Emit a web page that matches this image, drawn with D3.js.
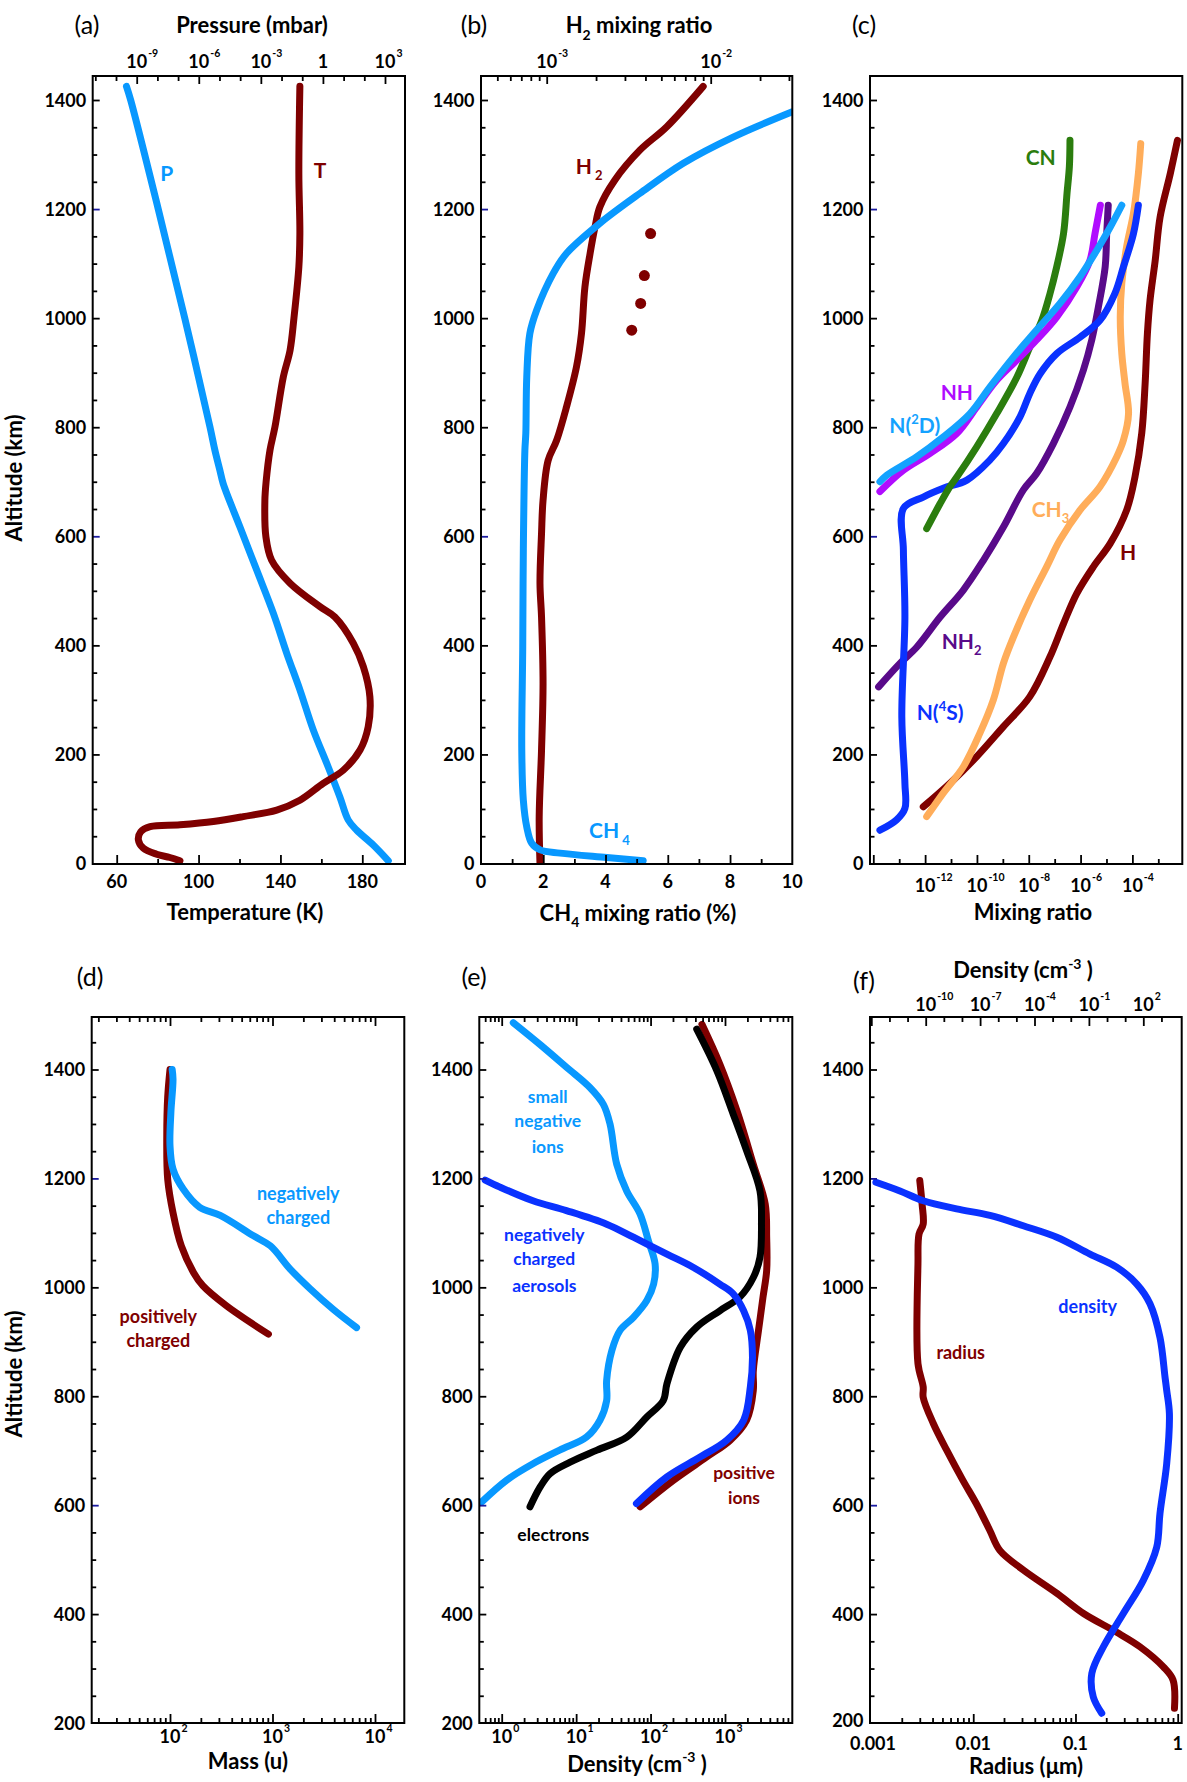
<!DOCTYPE html>
<html><head><meta charset="utf-8">
<script src="https://cdn.jsdelivr.net/npm/d3@7"></script>
<style>body{margin:0;background:#fff}svg{display:block}</style>
</head><body>
<script>
// ---------------- DATA ----------------
// (a) pressure (mbar) and temperature (K) vs altitude (km)
const altP = [1425,1400,1200,1000,800,758,721,697,617,538,459,385,318,245,177,122,80,61,34,5];
const pressureMbar = [3.2e-10,5.1e-10,1.1e-8,2.1e-7,3.5e-6,6.0e-6,1.05e-5,1.5e-5,9.8e-5,6.3e-4,4.0e-3,1.8e-2,7.8e-2,0.34,1.8,6.6,16.6,43,270,1450];
const altT = [1425,1265,1155,1094,1000,941,892,800,758,700,666,599,556,514,471,452,404,361,306,251,208,171,147,116,98,86,77,71,67.5,58,43,28,17,11,5];
const temperatureK = [149.5,149,149.5,149,146.6,144.7,141.4,137.3,134.9,133,132.4,132.9,135.7,144.7,159.3,166.6,175.6,180.5,183.7,182.9,178.9,170.7,160.9,149.5,138.2,121.8,107.2,90.9,76.3,71.7,70.6,73.0,79.5,86,90.9];
const tempTicks = [60,100,140,180];
const pressureTicks = [1e-9,1e-6,1e-3,1,1e3];
const pressureTickLabels = ['10^-9','10^-6','10^-3','1','10^3'];

// (b) CH4 (%) and H2 mixing ratio
const altCH4 = [5,11,19,25,37,67,116,208,392,575,758,789,892,972,1015,1082,1119,1174,1229,1284,1332,1378];
const ch4Percent = [5.21,4.04,2.54,1.90,1.63,1.47,1.36,1.31,1.34,1.36,1.41,1.44,1.47,1.57,1.79,2.32,2.75,3.82,5.11,6.50,8.10,9.98];
const altH2 = [1425,1351,1308,1253,1204,1167,1119,1057,972,911,837,776,739,666,605,514,452,330,208,86,0];
const h2Ratio = [9.0e-3,5.4e-3,3.7e-3,2.6e-3,2.11e-3,1.97e-3,1.84e-3,1.71e-3,1.63e-3,1.52e-3,1.32e-3,1.15e-3,1.02e-3,9.5e-4,9.3e-4,9.1e-4,9.3e-4,9.5e-4,9.3e-4,9.0e-4,9.1e-4];
const altH2obs = [1155,1078,1027,978];
const h2Obs = [4.3e-3,3.94e-3,3.74e-3,3.30e-3];
const ch4Ticks = [0,2,4,6,8,10];
const h2Ticks = [1e-3,1e-2];
const h2TickLabels = ['10^-3','10^-2'];

// (c) mixing ratios
const altCN = [1326,1278,1229,1155,1094,1045,996,947,892,825,764,709,691,660,614];
const mrCN = [3.9e-7,3.7e-7,3.0e-7,2.2e-7,1.2e-7,6.6e-8,3.2e-8,1.1e-8,3.5e-9,5.8e-10,9.8e-11,1.7e-11,9.1e-12,3.8e-12,1.15e-12];
const altNH = [1207,1155,1106,1057,1002,960,923,886,837,789,752,721,682];
const mrNH = [5.8e-6,3.6e-6,2.3e-6,7.1e-7,1.2e-7,2.0e-8,3.5e-9,5.8e-10,9.8e-11,1.7e-11,1.55e-12,1.45e-13,1.8e-14];
const altN2D = [1207,1167,1125,1076,1027,978,929,874,825,782,746,712,700];
const mrN2D = [3.9e-5,1.4e-5,4.3e-6,9.5e-7,1.6e-7,2.0e-8,2.6e-9,3.2e-10,5.4e-11,5.0e-12,4.8e-13,3.3e-14,1.8e-14];
const altNH2 = [1207,1155,1094,1021,960,905,837,770,715,685,617,556,501,452,397,367,324];
const mrNH2 = [1.17e-5,1.02e-5,8.9e-6,4.9e-6,2.7e-6,1.29e-6,3.9e-7,8.9e-8,2.0e-8,6.2e-9,1.05e-9,1.78e-10,2.95e-11,3.8e-12,4.8e-13,1.07e-13,1.6e-14];
const altN4S = [1207,1155,1094,1045,996,965,935,898,862,819,770,740,703,688,672,651,575,452,269,147,101,80,61];
const mrN4S = [1.7e-4,1.1e-4,4.5e-5,2.1e-5,5.6e-6,9.5e-7,1.2e-7,2.75e-8,1.1e-8,4.6e-9,1.05e-9,3.2e-10,4.1e-11,5.0e-12,8.5e-13,1.45e-13,1.45e-13,1.66e-13,1.26e-13,1.66e-13,1.66e-13,7.9e-14,1.8e-14];
const altCH3 = [1320,1265,1192,1131,1064,1002,935,880,825,776,746,691,648,593,544,483,416,367,300,239,177,129,86];
const mrCH3 = [2.1e-4,1.7e-4,1.1e-4,6.0e-5,3.9e-5,3.4e-5,3.9e-5,5.2e-5,7.1e-5,4.5e-5,2.5e-5,5.6e-6,9.5e-7,1.6e-7,4.9e-8,1.1e-8,2.6e-9,1.05e-9,4.3e-10,1.3e-10,2.95e-11,5.0e-12,1.15e-12];
const altH = [1326,1265,1185,1106,1033,972,880,789,709,648,587,544,495,440,379,306,251,196,147,104];
const mrH = [5.5e-3,2.9e-3,1.17e-3,7.6e-4,4.8e-4,3.8e-4,3.1e-4,2.3e-4,1.26e-4,6.0e-5,1.4e-5,3.1e-6,7.1e-7,2.2e-7,6.6e-8,1.1e-8,1.05e-9,9.8e-11,9.1e-12,8.5e-13];
const mixTicks = [1e-12,1e-10,1e-8,1e-6,1e-4];
const mixTickLabels = ['10^-12','10^-10','10^-8','10^-6','10^-4'];

// (d) mass (u)
const altPos = [1400,1350,1278,1198,1137,1076,1027,1003,966,936,914];
const massPos = [100,95,93,95,107,129,170,209,355,603,912];
const altNeg = [1400,1382,1321,1260,1217,1180,1147,1132,1095,1076,1034,997,960,926];
const massNeg = [105,107,102,100,107,135,195,309,646,955,1480,2340,3890,6610];
const massTicks = [1e2,1e3,1e4];
const massTickLabels = ['10^2','10^3','10^4'];

// (e) densities (cm^-3)
const altSmallNeg = [1486,1446,1404,1367,1336,1300,1226,1177,1135,1086,1043,1006,976,945,921,884,829,792,756,725,701,676,646,606];
const denSmallNeg = [1.43,3.27,7.46,15.3,23.2,28.5,35.1,47.8,72.1,93.3,115,110,89.1,58.9,38.9,30.2,25.7,25.7,20.9,13.8,6.0,2.63,1.17,0.54];
const altAerosol = [1197,1184,1159,1141,1116,1092,1061,1037,1006,988,957,921,872,817,756,719,688,652,603];
const denAerosol = [0.60,0.95,2.63,7.41,25.7,58.9,166,372,851,1290,1780,2190,2340,2190,1780,1050,457,166,64.6];
const altElec = [1474,1398,1318,1251,1177,1116,1055,1018,982,957,927,890,823,792,762,725,701,679,658,633,597];
const denElec = [417,776,1290,1950,2950,3090,2950,2400,1580,851,417,251,166,148,89.1,47.9,19.1,8.3,4.47,3.27,2.4];
const altPosIon = [1483,1410,1324,1226,1153,1092,1031,982,921,847,811,756,719,688,646,597];
const denPosIon = [490,851,1450,2400,3470,3630,3630,3240,2820,2400,2400,1950,1170,562,204,72.4];
const densTicks = [1,10,100,1000];
const densTickLabels = ['10^0','10^1','10^2','10^3'];

// (f) aerosol radius (um) and density
const altRadius = [1196,1153,1116,1098,1043,860,817,798,750,701,646,603,554,517,481,438,401,367,340,303,279,227];
const radiusUm = [0.0030,0.00316,0.00324,0.00295,0.00288,0.00288,0.00324,0.00324,0.00407,0.0055,0.0079,0.0107,0.0145,0.0182,0.0309,0.066,0.120,0.251,0.427,0.724,0.90,0.93];
const altAerDen = [1193,1177,1159,1144,1132,1113,1092,1061,1037,1006,970,908,835,811,768,676,585,523,462,401,340,291,248,218];
const aerDen = [1.8e-13,3.8e-12,7.4e-11,5.1e-9,3.5e-7,2.4e-5,1.7e-3,0.115,3.4,43.6,234,832,1580,1950,2750,1950,832,550,100,7.9,0.63,0.145,0.174,0.51];
const radiusTicks = [0.001,0.01,0.1,1];
const radiusTickLabels = ['0.001','0.01','0.1','1'];
const aerDenTicks = [1e-10,1e-7,1e-4,1e-1,1e2];
const aerDenTickLabels = ['10^-10','10^-7','10^-4','10^-1','10^2'];

const altTicksTop = [0,200,400,600,800,1000,1200,1400];
const altTicksBottom = [200,400,600,800,1000,1200,1400];

// ---------------- DRAWING ----------------
const F = "Lato, 'Open Sans', 'DejaVu Sans', sans-serif";
const COL = {lb:'#0898ff', dr:'#7f0000', bl:'#0a32ff', gr:'#2b7d0e', vi:'#b00cff', pu:'#590a8a', or:'#ffad5a', n2d:'#14a2ff', bk:'#000'};
const LW = 7;
const svg = d3.select('body').append('svg').attr('width',1187).attr('height',1782);
const defs = svg.append('defs');

function rich(x,y,parts,o={}){
  const fs=o.fs||18;
  const t=svg.append('text').attr('x',x).attr('y',y).attr('text-anchor',o.anchor||'middle')
    .attr('font-size',fs).attr('font-weight',o.weight||700).attr('fill',o.color||'#000').attr('font-family',F);
  if(o.rotate) t.attr('transform',`rotate(${o.rotate},${x},${y})`);
  let shift=0;
  parts.forEach(p=>{
    let s=p,k='n'; if(Array.isArray(p)){s=p[0];k=p[1];}
    const target = k==='sub'? fs*0.3 : k==='sup'? -fs*0.42 : 0;
    const ts=t.append('tspan').text(s);
    if(target-shift!==0) ts.attr('dy',target-shift);
    if(k!=='n') ts.attr('font-size',Math.round(fs*0.62));
    shift=target;
  });
  return t;
}
function tickLabel(x,y,lab,fs=18){
  const m=lab.split('^');
  const t=svg.append('text').attr('x',x).attr('y',y).attr('text-anchor','middle').attr('font-size',fs)
    .attr('font-weight',700).attr('font-family',F).text(m[0]);
  if(m.length>1){
    const w=t.node().getComputedTextLength();
    svg.append('text').attr('x',x+w/2+1).attr('y',y-fs*0.6).attr('font-size',10.5).attr('font-weight',700)
      .attr('font-family',F).text(m[1]);
  }
}
function ticks(axisFn,scale,values,size,tx,ty,color){
  const g=svg.append('g').attr('transform',`translate(${tx},${ty})`)
    .call(axisFn(scale).tickValues(values).tickSize(size).tickSizeOuter(0).tickFormat(''));
  g.select('.domain').remove();
  g.selectAll('text').remove();
  g.selectAll('line').attr('stroke',color||'#000').attr('stroke-width',1.8);
  return g;
}
function logTicks(scale,lo,hi,x0,x1){
  const out=[];
  for(let e=lo;e<=hi;e++) for(let m=1;m<10;m++){const v=m*Math.pow(10,e);const p=scale(v);if(p>x0+1&&p<x1-1) out.push(v);}
  return out;
}
function frame(P){
  svg.append('rect').attr('x',P.x0).attr('y',P.y0).attr('width',P.x1-P.x0).attr('height',P.y1-P.y0)
    .attr('fill','none').attr('stroke','#000').attr('stroke-width',2);
}
function clip(P,id){
  defs.append('clipPath').attr('id',id).append('rect').attr('x',P.x0).attr('y',P.y0).attr('width',P.x1-P.x0).attr('height',P.y1-P.y0);
}
function curve(xs,ys,xs_,ys_,color,id,w=LW){
  svg.append('path').datum(d3.zip(xs,ys))
    .attr('d',d3.line().x(d=>xs_(d[0])).y(d=>ys_(d[1])).curve(d3.curveCatmullRom.alpha(0.5)))
    .attr('fill','none').attr('stroke',color).attr('stroke-width',w)
    .attr('stroke-linecap','round').attr('stroke-linejoin','round').attr('clip-path',`url(#${id})`);
}
function yAxis(P,y,majors,lo,hi,lowLift=0){
  const minors=d3.range(lo,hi+1,50).filter(v=>!majors.includes(v)&&y(v)>P.y0+1&&y(v)<P.y1-1);
  ticks(d3.axisRight,y,minors,4.5,P.x0,0);
  ticks(d3.axisRight,y,majors.filter(v=>v!==600&&v!==1200&&y(v)<P.y1-1),7,P.x0,0);
  ticks(d3.axisRight,y,majors.filter(v=>v===600||v===1200),7,P.x0,0,'#1a1aa0');
  majors.forEach((v,i)=>svg.append('text').attr('x',P.x0-6.5).attr('y',y(v)+6.5-(i===0?lowLift:0)).attr('text-anchor','end')
    .attr('font-size',18).attr('font-weight',700).attr('font-family',F).text(v));
}

// ----- panel geometry -----
const PA={x0:92.7,x1:405,y0:76,y1:864}, PB={x0:481,x1:792.3,y0:76,y1:864}, PC={x0:870,x1:1182.3,y0:76,y1:864};
const PD={x0:91.7,x1:404.3,y0:1017,y1:1723}, PE={x0:479.3,x1:792.3,y0:1017,y1:1723}, PF={x0:870,x1:1181.7,y0:1017,y1:1723};
const yTop=d3.scaleLinear().domain([0,1400]).range([863.5,100]);
const yBot=d3.scaleLinear().domain([200,1400]).range([1723,1069.5]);
[['ca',PA],['cb',PB],['cc',PC],['cd',PD],['ce',PE],['cf',PF]].forEach(([id,P])=>clip(P,id));

// ===== (a) =====
const xT=d3.scaleLinear().domain([60,180]).range([116.7,362.3]);
const xP=d3.scaleLog().domain([1e-9,1e3]).range([136.7,385]);
curve(pressureMbar,altP,xP,yTop,COL.lb,'ca');
curve(temperatureK,altT,xT,yTop,COL.dr,'ca');
yAxis(PA,yTop,altTicksTop,0,1400);
ticks(d3.axisTop,xT,tempTicks,9,0,PA.y1);
ticks(d3.axisTop,xT,[80,120,160],5,0,PA.y1);
tempTicks.forEach(v=>tickLabel(xT(v),888,String(v)));
const pDec=d3.range(-11,4).map(e=>Math.pow(10,e));
ticks(d3.axisBottom,xP,pDec.filter(v=>!pressureTicks.some(t=>Math.abs(t/v-1)<1e-6)),5,0,PA.y0);
ticks(d3.axisBottom,xP,pressureTicks,8,0,PA.y0);
pressureTicks.forEach((v,i)=>tickLabel(xP(v),68,pressureTickLabels[i]));
frame(PA);
rich(252,33,['Pressure (mbar)'],{fs:22});
rich(245,920,['Temperature (K)'],{fs:22});
rich(87,34,['(a)'],{fs:25,weight:400});
rich(166.7,180.7,['P'],{fs:21,color:COL.lb});
rich(320,178.3,['T'],{fs:21,color:COL.dr});
rich(22,478,['Altitude (km)'],{fs:22,rotate:-90});

// ===== (b) =====
const xCH4=d3.scaleLinear().domain([0,10]).range([481,792.3]);
const xH2=d3.scaleLog().domain([1e-3,1e-2]).range([546.7,710.7]);
curve(h2Ratio,altH2,xH2,yTop,COL.dr,'cb');
curve(ch4Percent,altCH4,xCH4,yTop,COL.lb,'cb');
svg.append('g').selectAll('circle').data(d3.zip(h2Obs,altH2obs)).join('circle')
  .attr('cx',d=>xH2(d[0])).attr('cy',d=>yTop(d[1])).attr('r',5.5).attr('fill',COL.dr);
yAxis(PB,yTop,altTicksTop,0,1400);
ticks(d3.axisTop,xCH4,ch4Ticks.filter(v=>v>0&&v<10),9,0,PB.y1);
ticks(d3.axisTop,xCH4,[1,3,5,7,9],5,0,PB.y1);
ch4Ticks.forEach(v=>tickLabel(xCH4(v),888,String(v)));
ticks(d3.axisBottom,xH2,logTicks(xH2,-4,-2,PB.x0,PB.x1).filter(v=>!h2Ticks.some(t=>Math.abs(t/v-1)<1e-6)),5,0,PB.y0);
ticks(d3.axisBottom,xH2,h2Ticks,8,0,PB.y0);
h2Ticks.forEach((v,i)=>tickLabel(xH2(v),68,h2TickLabels[i]));
frame(PB);
rich(639,33,['H',['2','sub'],' mixing ratio'],{fs:22});
rich(638,920.7,['CH',['4','sub'],' mixing ratio (%)'],{fs:22});
rich(474,34,['(b)'],{fs:25,weight:400});
rich(575.7,174,['H',[' 2','sub']],{fs:21,anchor:'start',color:COL.dr});
rich(589,838.3,['CH',[' 4','sub']],{fs:21,anchor:'start',color:COL.lb});

// ===== (c) =====
const xMR=d3.scaleLog().domain([1e-14,1e-3]).range([873.3,1158.3]);
curve(mrH,altH,xMR,yTop,COL.dr,'cc');
curve(mrCH3,altCH3,xMR,yTop,COL.or,'cc');
curve(mrNH2,altNH2,xMR,yTop,COL.pu,'cc');
curve(mrN4S,altN4S,xMR,yTop,COL.bl,'cc');
curve(mrCN,altCN,xMR,yTop,COL.gr,'cc');
curve(mrNH,altNH,xMR,yTop,COL.vi,'cc');
curve(mrN2D,altN2D,xMR,yTop,COL.n2d,'cc');
yAxis(PC,yTop,altTicksTop,0,1400);
const mDec=d3.range(-14,-2).map(e=>Math.pow(10,e));
ticks(d3.axisTop,xMR,mDec.filter((v,i)=>i%2===0),9,0,PC.y1);
ticks(d3.axisTop,xMR,mDec.filter((v,i)=>i%2===1),5,0,PC.y1);
mixTicks.forEach((v,i)=>tickLabel(xMR(v),891.5,mixTickLabels[i]));
frame(PC);
rich(1033,920,['Mixing ratio'],{fs:22});
rich(864,34,['(c)'],{fs:25,weight:400});
rich(1025.7,165,['CN'],{fs:21,anchor:'start',color:COL.gr});
rich(940.7,400,['NH'],{fs:21,anchor:'start',color:COL.vi});
rich(889.3,433.3,['N(',['2','sup'],'D)'],{fs:21,anchor:'start',color:COL.n2d});
rich(1031.7,516.7,['CH',['3','sub']],{fs:21,anchor:'start',color:COL.or});
rich(1120,560,['H'],{fs:21,anchor:'start',color:COL.dr});
rich(941.7,649,['NH',['2','sub']],{fs:21,anchor:'start',color:COL.pu});
rich(916.7,720,['N(',['4','sup'],'S)'],{fs:21,anchor:'start',color:COL.bl});

// ===== (d) =====
const xM=d3.scaleLog().domain([1e2,1e4]).range([170,375]);
curve(massPos,altPos,xM,yBot,COL.dr,'cd');
curve(massNeg,altNeg,xM,yBot,COL.lb,'cd');
yAxis(PD,yBot,altTicksBottom,200,1450);
const mMin=logTicks(xM,1,4,PD.x0,PD.x1).filter(v=>!massTicks.some(t=>Math.abs(t/v-1)<1e-6));
[[d3.axisTop,PD.y1],[d3.axisBottom,PD.y0]].forEach(([fn,yy])=>{ticks(fn,xM,mMin,5,0,yy);ticks(fn,xM,massTicks,9,0,yy);});
massTicks.forEach((v,i)=>tickLabel(xM(v),1743,massTickLabels[i]));
frame(PD);
rich(248,1769,['Mass (u)'],{fs:22});
rich(90,986,['(d)'],{fs:25,weight:400});
rich(22,1374,['Altitude (km)'],{fs:22,rotate:-90});
rich(298.3,1200,['negatively'],{fs:18,color:COL.lb});
rich(298.3,1224,['charged'],{fs:18,color:COL.lb});
rich(158.3,1323.3,['positively'],{fs:18,color:COL.dr});
rich(158.3,1346.7,['charged'],{fs:18,color:COL.dr});

// ===== (e) =====
const xD=d3.scaleLog().domain([1,1e3]).range([501.7,725]);
curve(denPosIon,altPosIon,xD,yBot,COL.dr,'ce');
curve(denElec,altElec,xD,yBot,COL.bk,'ce');
curve(denSmallNeg,altSmallNeg,xD,yBot,COL.lb,'ce');
curve(denAerosol,altAerosol,xD,yBot,COL.bl,'ce');
yAxis(PE,yBot,altTicksBottom,200,1450);
const dMin=logTicks(xD,-1,3,PE.x0,PE.x1).filter(v=>!densTicks.some(t=>Math.abs(t/v-1)<1e-6));
[[d3.axisTop,PE.y1],[d3.axisBottom,PE.y0]].forEach(([fn,yy])=>{ticks(fn,xD,dMin,5,0,yy);ticks(fn,xD,densTicks,9,0,yy);});
densTicks.forEach((v,i)=>tickLabel(xD(v),1743,densTickLabels[i]));
frame(PE);
rich(637,1771.7,['Density (cm',['-3','sup'],' )'],{fs:22});
rich(474,986,['(e)'],{fs:25,weight:400});
rich(547.7,1102.7,['small'],{fs:17.5,color:COL.lb});
rich(547.7,1127.3,['negative'],{fs:17.5,color:COL.lb});
rich(547.7,1152.7,['ions'],{fs:17.5,color:COL.lb});
rich(544.3,1240.7,['negatively'],{fs:17.5,color:COL.bl});
rich(544.3,1265,['charged'],{fs:17.5,color:COL.bl});
rich(544.3,1291.7,['aerosols'],{fs:17.5,color:COL.bl});
rich(553.3,1541,['electrons'],{fs:17.5,color:COL.bk});
rich(744,1479.3,['positive'],{fs:17.5,color:COL.dr});
rich(744,1504,['ions'],{fs:17.5,color:COL.dr});

// ===== (f) =====
const xR=d3.scaleLog().domain([1e-3,1]).range([871,1177.7]);
const xAD=d3.scaleLog().domain([1e-10,1e2]).range([925.7,1143.3]);
curve(radiusUm,altRadius,xR,yBot,COL.dr,'cf');
curve(aerDen,altAerDen,xAD,yBot,COL.bl,'cf');
yAxis(PF,yBot,altTicksBottom,200,1450,3);
const rMin=logTicks(xR,-3,0,PF.x0,PF.x1).filter(v=>!radiusTicks.some(t=>Math.abs(t/v-1)<1e-6));
ticks(d3.axisTop,xR,rMin,5,0,PF.y1);
ticks(d3.axisTop,xR,radiusTicks.filter(v=>xR(v)>PF.x0+1),9,0,PF.y1);
radiusTicks.forEach((v,i)=>tickLabel(xR(v)+(i===0?2:0),1749.5,radiusTickLabels[i]));
const adDec=d3.range(-13,4).map(e=>Math.pow(10,e));
ticks(d3.axisBottom,xAD,adDec.filter((v,i)=>i%3===0),9,0,PF.y0);
ticks(d3.axisBottom,xAD,adDec.filter((v,i)=>i%3!==0),5,0,PF.y0);
aerDenTicks.forEach((v,i)=>tickLabel(xAD(v),1011,aerDenTickLabels[i]));
frame(PF);
rich(1026,1774,['Radius (μm)'],{fs:22});
rich(1023,978,['Density (cm',['-3','sup'],' )'],{fs:22});
rich(864,990,['(f)'],{fs:25,weight:400});
rich(1087.7,1312.7,['density'],{fs:18,color:COL.bl});
rich(960.7,1359.3,['radius'],{fs:18,color:COL.dr});
</script>
</body></html>
